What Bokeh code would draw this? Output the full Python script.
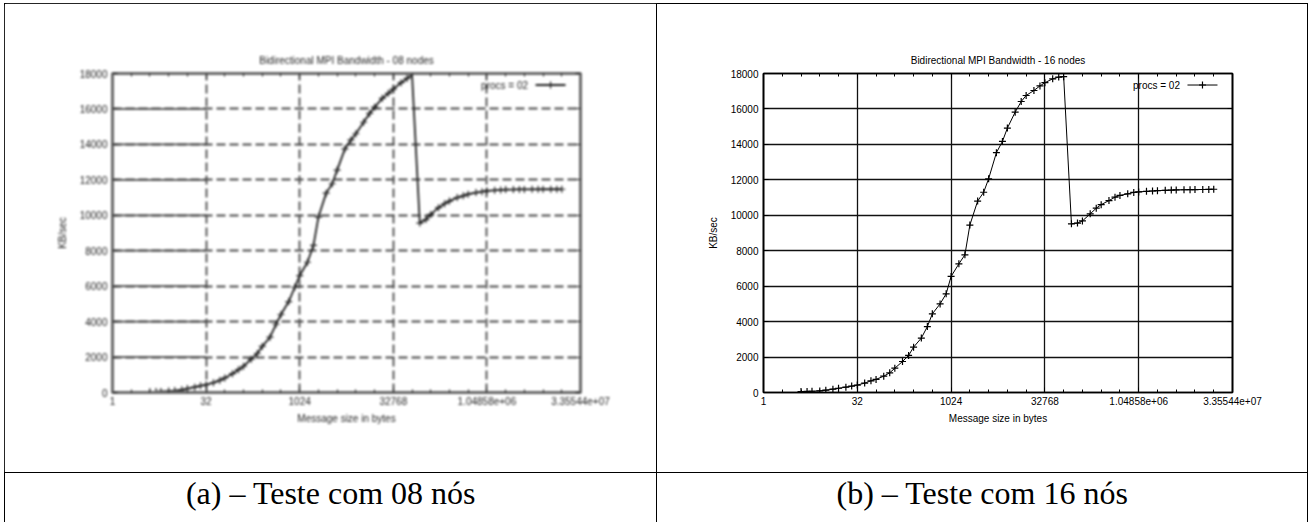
from bokeh.plotting import figure
from bokeh.layouts import row, column
from bokeh.models import (ColumnDataSource, FixedTicker, LinearAxis, LogAxis,
                          Range1d, Label, Spacer)
from bokeh.core.properties import value
from bokeh.embed import file_html
from bokeh.resources import INLINE

# Message sizes (bytes) sampled by the benchmark
msg_size = [4, 5, 6, 8, 10, 13, 16, 21, 26, 32, 42, 53, 64, 85, 106,
            128, 170, 213, 256, 341, 426, 512, 682, 853, 1024, 1365, 1706,
            2048, 2730, 3413, 4096, 5461, 6826, 8192, 10922, 13653,
            16384, 21845, 27306, 32768, 43690, 54613, 65536, 87381, 109226,
            131072, 174762, 218453, 262144, 349525, 436906, 524288, 699050,
            873813, 1048576, 1398101, 1747626, 2097152, 2796202, 3495253,
            4194304, 5592405, 6990506, 8388608, 11184810, 13981013, 16777216]

# Bidirectional bandwidth in KB/sec, 08 nodes
kbsec_08 = [40, 50, 60, 80, 110, 150, 220, 300, 380, 440, 550, 680, 820,
            1060, 1290, 1480, 1880, 2200, 2600, 3120, 3850, 4400, 5130, 5940,
            6600, 7350, 8300, 9900, 11250, 11780, 12550, 13750, 14250, 14600,
            15250, 15750, 16100, 16600, 16880, 17120, 17480, 17720, 17950,
            9560, 9760, 10050, 10430, 10650, 10800, 11000, 11100, 11190,
            11280, 11330, 11380, 11410, 11430, 11450, 11455, 11460, 11460,
            11465, 11465, 11470, 11470, 11470, 11470]

# Bidirectional bandwidth in KB/sec, 16 nodes
kbsec_16 = [50, 60, 70, 90, 130, 186, 240, 300, 360, 420, 530, 660, 740,
            920, 1110, 1370, 1750, 2090, 2560, 3070, 3720, 4440, 5000, 5570,
            6550, 7260, 7770, 9450, 10800, 11300, 12060, 13530, 14170, 14920,
            15820, 16420, 16760, 17040, 17300, 17480, 17700, 17800, 17820,
            9520, 9560, 9680, 10080, 10400, 10600, 10830, 11020, 11120,
            11210, 11290, 11320, 11350, 11370, 11390, 11410, 11420, 11430,
            11440, 11445, 11450, 11455, 11460, 11470]

x_major = [1, 32, 1024, 32768, 1048576, 33554432]
x_major_labels = ["1", "32", "1024", "32768", "1.04858e+06", "3.35544e+07"]
x_minor = [2 ** k for k in range(1, 25) if k % 5]
y_ticks = [0, 2000, 4000, 6000, 8000, 10000, 12000, 14000, 16000, 18000]

legend_text = "procs = 02"
captions = ["(a) \u2013 Teste com 08 n\u00f3s", "(b) \u2013 Teste com 16 n\u00f3s"]
titles = ["Bidirectional MPI Bandwidth - 08 nodes",
          "Bidirectional MPI Bandwidth - 16 nodes"]

SANS = "Liberation Sans"
CELL_H = 468


def rule(w, h):
    """A solid black strip used for the table rules."""
    return Spacer(width=w, height=h, styles={"background-color": "black"})


def chart(title, kbsec, width, b_left, b_right, ink, grid_color, grid_dash,
          grid_width, frame_color, frame_width, line_width, styles,
          solid_lead=False):
    p = figure(width=width, height=CELL_H, x_axis_type="log",
               x_range=Range1d(1, 2 ** 25), y_range=Range1d(0, 18000),
               output_backend="svg", toolbar_location=None,
               min_border_left=b_left, min_border_right=b_right,
               min_border_top=69, min_border_bottom=80, styles=styles)
    p.background_fill_color = "white"
    p.border_fill_color = "white"
    p.outline_line_color = frame_color
    p.outline_line_width = frame_width

    p.title.text = title
    p.title.align = "center"
    p.title.text_font = SANS
    p.title.text_font_size = "10px"
    p.title.text_font_style = "normal"
    p.title.text_color = ink
    p.title.standoff = 16

    xt = FixedTicker(ticks=x_major, minor_ticks=x_minor)
    yt = FixedTicker(ticks=y_ticks)
    overrides = {float(t): s for t, s in zip(x_major, x_major_labels)}

    xa = p.xaxis[0]
    xa.ticker = xt
    xa.major_label_overrides = overrides
    xa.axis_label = "Message size in bytes"
    ya = p.yaxis[0]
    ya.ticker = yt
    ya.axis_label = "KB/sec"

    top = LogAxis(ticker=xt, major_label_text_color=None,
                  major_label_text_font_size="1px", major_label_standoff=0)
    right = LinearAxis(ticker=yt, major_label_text_color=None,
                       major_label_text_font_size="1px", major_label_standoff=0)
    p.add_layout(top, "above")
    p.add_layout(right, "right")

    for ax in (xa, ya, top, right):
        ax.axis_line_color = frame_color
        ax.axis_line_width = frame_width
        ax.major_tick_in = 5
        ax.major_tick_out = 0
        ax.minor_tick_in = 3
        ax.minor_tick_out = 0
        ax.major_tick_line_color = ink
        ax.minor_tick_line_color = ink
        ax.major_label_text_font = SANS
        ax.axis_label_text_font = SANS
        ax.axis_label_text_font_style = "normal"
        ax.axis_label_text_font_size = "10px"
        ax.axis_label_text_color = ink
    for ax in (ya, right):
        ax.minor_tick_line_color = None
    for ax in (xa, ya):
        ax.major_label_text_font_size = "10px"
        ax.major_label_text_color = ink
    xa.major_label_standoff = 4
    xa.axis_label_standoff = 5
    ya.major_label_standoff = 5
    ya.axis_label_standoff = 9

    p.xgrid.ticker = xt
    p.ygrid.ticker = yt
    for g in (p.xgrid[0], p.ygrid[0]):
        g.grid_line_color = grid_color
        g.grid_line_width = grid_width
        g.grid_line_dash = grid_dash

    if solid_lead:
        # horizontal rules run solid up to the first decade, dashed after it
        n = len(y_ticks)
        p.segment(x0=[x_major[0]] * n, x1=[x_major[1]] * n, y0=y_ticks,
                  y1=y_ticks, line_color=grid_color, line_width=grid_width)

    src = ColumnDataSource(dict(size=msg_size, kbsec=kbsec))
    p.line("size", "kbsec", source=src, line_color=ink, line_width=line_width)
    p.scatter("size", "kbsec", source=src, marker="cross", size=7,
              line_color=ink, line_width=1.2)

    # key in the upper right corner: label, then a line sample with a cross
    ky = 17350
    p.text(x=[2 ** 22.2], y=[ky], text=[legend_text], text_align="right",
           text_baseline="middle", text_font=value(SANS),
           text_font_size="10px", text_color=ink)
    p.line(x=[2 ** 22.6, 2 ** 24.2], y=[ky, ky], line_color=ink,
           line_width=line_width)
    p.scatter(x=[2 ** 23.4], y=[ky], marker="cross", size=7, line_color=ink,
              line_width=1.2)
    return p


def caption(text, width):
    c = figure(width=width, height=49, toolbar_location=None,
               output_backend="svg", min_border=0, x_axis_location=None,
               y_axis_location=None, x_range=(0, 1), y_range=(0, 1))
    c.grid.visible = False
    c.outline_line_color = None
    c.add_layout(Label(x=0.5, y=0.6, text=text, text_align="center",
                       text_baseline="middle", text_font="Liberation Serif",
                       text_font_size="32px", text_color="black"))
    return c


left = chart(titles[0], kbsec_08, 651, 107, 76, ink="#1e1e1e",
             grid_color="#4a4a4a", grid_dash="9 4", grid_width=1.8,
             frame_color="#6a6a6a", frame_width=3, line_width=1.8,
             styles={"filter": "blur(0.8px)"}, solid_lead=True)
right = chart(titles[1], kbsec_16, 650, 106, 75, ink="black",
              grid_color="#111111", grid_dash="solid", grid_width=1.3,
              frame_color="black", frame_width=1.6, line_width=1,
              styles={})

page = column(
    Spacer(width=1310, height=3),
    row(Spacer(width=4, height=1), rule(1304, 1)),
    row(Spacer(width=4, height=CELL_H), rule(1, CELL_H), left,
        rule(1, CELL_H), right, rule(1, CELL_H)),
    row(Spacer(width=4, height=1), rule(1304, 1)),
    row(Spacer(width=4, height=49), rule(1, 49), caption(captions[0], 651),
        rule(1, 49), caption(captions[1], 650), rule(1, 49)),
)

open("out.html", "w").write(file_html(page, INLINE))
